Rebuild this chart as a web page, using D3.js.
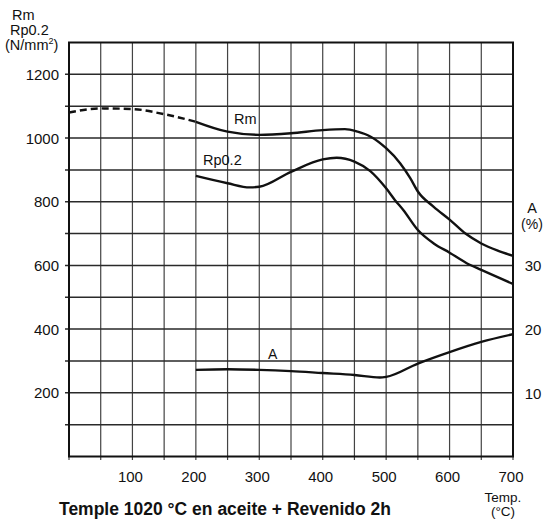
<!DOCTYPE html>
<html>
<head>
<meta charset="utf-8">
<script src="https://cdn.jsdelivr.net/npm/d3@7"></script>
<style>
  html, body { margin: 0; padding: 0; background: #fff; }
  svg { display: block; }
  text { font-family: "Liberation Sans", Arial, sans-serif; fill: #111; }
</style>
</head>
<body>
<svg id="chart" width="545" height="522"></svg>
<script>
// Tempering temperatures (°C) and mechanical properties
const rmTemps  = [0, 50, 100, 150, 200, 250, 300, 350, 400, 435, 455, 475, 500, 522, 538, 550, 575, 600, 625, 650, 675, 700];
const rmValues = [1080, 1093, 1091, 1075, 1051, 1020, 1010, 1015, 1025, 1028, 1020, 1005, 968, 921, 874, 832, 784, 744, 700, 669, 647, 630];
const rmDashedUntil = 200;   // Rm below this temperature is drawn dashed

const rpTemps  = [200, 250, 285, 300, 350, 400, 422, 450, 475, 500, 514, 527, 550, 575, 600, 627, 650, 700];
const rpValues = [881, 858, 845, 847, 894, 933, 938, 926, 896, 842, 805, 774, 711, 669, 640, 607, 586, 542];

const aTemps  = [200, 250, 300, 350, 400, 450, 490, 500, 550, 600, 650, 700];
const aValues = [13.6, 13.7, 13.6, 13.4, 13.1, 12.8, 12.4, 12.5, 14.6, 16.4, 18.0, 19.2];

const xTicks      = [100, 200, 300, 400, 500, 600, 700];
const yTicks      = [200, 400, 600, 800, 1000, 1200];
const aTicks      = [10, 20, 30];
const xGridStep   = 50;
const yGridStep   = 100;

const svg = d3.select("#chart");

const x  = d3.scaleLinear().domain([0, 700]).range([69, 513]);
const y  = d3.scaleLinear().domain([0, 1300]).range([456.5, 42.5]);
const yA = d3.scaleLinear().domain([0, 65]).range([456.5, 42.5]);

// grid: vertical lines every 50 °C (with small ticks below the frame)
const vGrid = d3.path();
d3.range(0, 701, xGridStep).forEach(t => {
  vGrid.moveTo(x(t), y(1300));
  vGrid.lineTo(x(t), y(0) + 3.5);
});
// grid: horizontal lines every 100 N/mm² (with small ticks left of the frame)
const hGrid = d3.path();
d3.range(yGridStep, 1300, yGridStep).forEach(v => {
  hGrid.moveTo(x(0) - 4, y(v));
  hGrid.lineTo(x(700), y(v));
});

const gridLayer = svg.append("g").attr("fill", "none");
gridLayer.append("path").attr("d", vGrid.toString())
  .attr("stroke", "#444").attr("stroke-width", 1.2);
gridLayer.append("path").attr("d", hGrid.toString())
  .attr("stroke", "#2a2a2a").attr("stroke-width", 1.5);

// frame
gridLayer.append("rect")
  .attr("x", x(0)).attr("y", y(1300))
  .attr("width", x(700) - x(0)).attr("height", y(0) - y(1300))
  .attr("stroke", "#111").attr("stroke-width", 2);

// axis labels (left)
svg.append("g").selectAll("text")
  .data(yTicks)
  .join("text")
  .attr("x", 59).attr("y", d => y(d) + 5.5)
  .attr("text-anchor", "end")
  .attr("font-size", 15)
  .text(d => d);

// axis labels (bottom)
svg.append("g").selectAll("text")
  .data(xTicks)
  .join("text")
  .attr("x", d => x(d) - 2).attr("y", 482)
  .attr("text-anchor", "middle")
  .attr("font-size", 15)
  .text(d => d);

// axis labels (right, elongation)
svg.append("g").selectAll("text")
  .data(aTicks)
  .join("text")
  .attr("x", 533).attr("y", d => yA(d) + 6)
  .attr("text-anchor", "middle")
  .attr("font-size", 15)
  .text(d => d);

// axis titles
const leftTitle = svg.append("g");
leftTitle.append("text").attr("x", 12).attr("y", 20).attr("font-size", 14.5).text("Rm");
leftTitle.append("text").attr("x", 10).attr("y", 35).attr("font-size", 14.5).text("Rp0.2");
const unit = leftTitle.append("text").attr("x", 5).attr("y", 50).attr("font-size", 14.5);
unit.append("tspan").text("(N/mm");
unit.append("tspan").attr("font-size", 9).attr("dy", -6).text("2");
unit.append("tspan").attr("dy", 6).text(")");

svg.append("text").attr("x", 532).attr("y", 213).attr("text-anchor", "middle").attr("font-size", 14.5).text("A");
svg.append("text").attr("x", 532).attr("y", 229).attr("text-anchor", "middle").attr("font-size", 14).text("(%)");

svg.append("text").attr("x", 503).attr("y", 502).attr("text-anchor", "middle").attr("font-size", 13.5).text("Temp.");
svg.append("text").attr("x", 503).attr("y", 516).attr("text-anchor", "middle").attr("font-size", 13.5).text("(°C)");

svg.append("text")
  .attr("x", 59).attr("y", 515)
  .attr("font-family", "'DejaVu Sans Condensed', 'DejaVu Sans', sans-serif")
  .attr("font-weight", "bold")
  .attr("font-size", 18)
  .attr("textLength", 332)
  .attr("lengthAdjust", "spacingAndGlyphs")
  .text("Temple 1020 °C en aceite + Revenido 2h");

// curves
const curve = d3.curveMonotoneX;
const lineL = d3.line().x(d => x(d[0])).y(d => y(d[1])).curve(curve);
const lineA = d3.line().x(d => x(d[0])).y(d => yA(d[1])).curve(curve);

const curves = svg.append("g")
  .attr("fill", "none").attr("stroke", "#111").attr("stroke-width", 2.4)
  .attr("stroke-linejoin", "round");

// Rm: estimated part (dashed) and measured part (solid)
const rmData = d3.zip(rmTemps, rmValues);
const rmEst  = rmData.filter(d => d[0] <= rmDashedUntil);
const rmMeas = rmData.filter(d => d[0] >= rmDashedUntil);
curves.append("path").attr("d", lineL(rmEst)).attr("stroke-dasharray", "7,4");
curves.append("path").attr("d", lineL(rmMeas));

curves.append("path").attr("d", lineL(d3.zip(rpTemps, rpValues)));
curves.append("path").attr("d", lineA(d3.zip(aTemps, aValues)));

// curve labels
svg.append("text").attr("x", 234).attr("y", 124).attr("font-size", 14.5).text("Rm");
svg.append("text").attr("x", 203).attr("y", 165).attr("font-size", 14.5).text("Rp0.2");
svg.append("text").attr("x", 268).attr("y", 359).attr("font-size", 14).text("A");
</script>
</body>
</html>
